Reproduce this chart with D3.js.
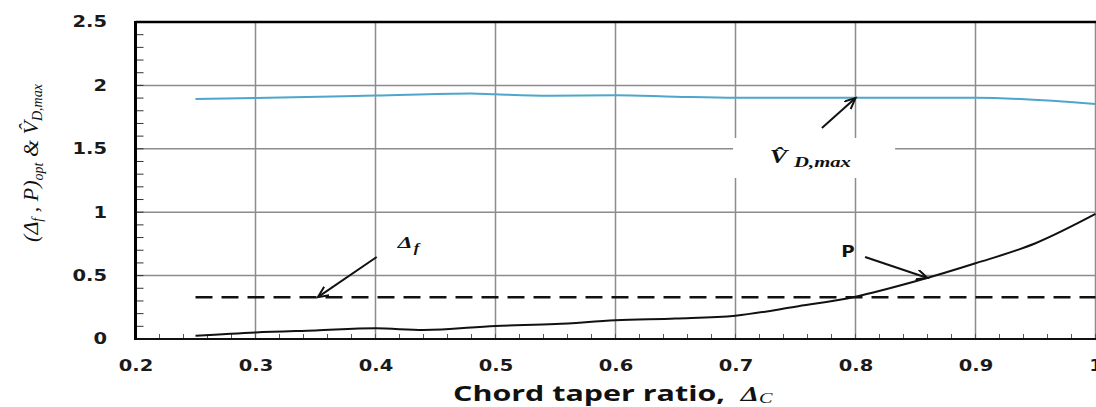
<!DOCTYPE html>
<html>
<head>
<meta charset="utf-8">
<script src="https://cdn.jsdelivr.net/npm/d3@7"></script>
<style>
  body { margin: 0; background: #fff; }
  svg { display: block; }
</style>
</head>
<body>
<div id="chart"></div>
<script>
// chord taper ratio ticks and y ticks
const xTicks = [0.2, 0.3, 0.4, 0.5, 0.6, 0.7, 0.8, 0.9, 1.0];
const yTicks = [0, 0.5, 1, 1.5, 2, 2.5];
const xGrid = [0.3, 0.4, 0.5, 0.6, 0.7, 0.8, 0.9, 1.0];
const yGrid = [0.5, 1, 1.5, 2];

// V_D,max (blue)
const vdX = [0.25, 0.3, 0.4, 0.48, 0.5, 0.545, 0.6, 0.65, 0.7, 0.8, 0.9, 1.0];
const vdY = [1.893, 1.90, 1.92, 1.937, 1.93, 1.919, 1.922, 1.911, 1.903, 1.903, 1.903, 1.853];

// P optimum (solid black)
const pX = [0.25, 0.3, 0.35, 0.4, 0.44, 0.5, 0.55, 0.6, 0.65, 0.7, 0.75, 0.8, 0.85, 0.9, 0.95, 1.0];
const pY = [0.026, 0.052, 0.068, 0.084, 0.071, 0.103, 0.118, 0.147, 0.162, 0.184, 0.255, 0.334, 0.455, 0.597, 0.755, 0.986];

// Delta_f optimum (dashed)
const dfX = [0.25, 1.0];
const dfY = [0.33, 0.33];

const width = 1096;
const height = 407;
const sx = 1.3; // text in the picture is stretched sideways

const x = d3.scaleLinear().domain([0.2, 1.0]).range([135.5, 1095.5]);
const y = d3.scaleLinear().domain([0, 2.5]).range([339, 22]);

const svg = d3.select('#chart')
  .append('svg')
  .attr('width', width)
  .attr('height', height);

svg.append('rect').attr('width', width).attr('height', height).attr('fill', '#fff');

const defs = svg.append('defs');
defs.append('marker')
  .attr('id', 'arrow')
  .attr('markerUnits', 'userSpaceOnUse')
  .attr('markerWidth', 14)
  .attr('markerHeight', 12)
  .attr('refX', 11)
  .attr('refY', 5)
  .attr('orient', 'auto')
  .append('path')
  .attr('d', 'M0,0 L11,5 L0,10')
  .attr('fill', 'none')
  .attr('stroke', '#111')
  .attr('stroke-width', 2);

// grid
svg.selectAll('.vgrid')
  .data(xGrid)
  .enter()
  .append('line')
  .attr('class', 'vgrid')
  .attr('x1', d => x(d)).attr('x2', d => x(d))
  .attr('y1', y(2.5)).attr('y2', y(0))
  .attr('stroke', '#8c8c8c')
  .attr('stroke-width', 1.5);

svg.selectAll('.hgrid')
  .data(yGrid)
  .enter()
  .append('line')
  .attr('class', 'hgrid')
  .attr('x1', x(0.2)).attr('x2', width)
  .attr('y1', d => y(d)).attr('y2', d => y(d))
  .attr('stroke', '#8c8c8c')
  .attr('stroke-width', 1.5);

// white patch behind the V label
svg.append('rect')
  .attr('x', x(0.698)).attr('y', y(1.585))
  .attr('width', x(0.833) - x(0.698))
  .attr('height', y(1.27) - y(1.585))
  .attr('fill', '#fff');

// minor ticks
svg.selectAll('.ytick')
  .data(d3.range(0, 25).map(i => i / 10))
  .enter()
  .append('line')
  .attr('x1', x(0.2)).attr('x2', x(0.2) + 8)
  .attr('y1', d => y(d)).attr('y2', d => y(d))
  .attr('stroke', '#333')
  .attr('stroke-width', 1);

svg.selectAll('.xtick')
  .data(d3.range(0, 41).map(i => 0.2 + i * 0.02))
  .enter()
  .append('line')
  .attr('x1', d => x(d)).attr('x2', d => x(d))
  .attr('y1', y(0)).attr('y2', y(0) - 5)
  .attr('stroke', '#555')
  .attr('stroke-width', 1);

// axes frame
svg.append('line')
  .attr('x1', x(0.2)).attr('x2', width)
  .attr('y1', y(2.5)).attr('y2', y(2.5))
  .attr('stroke', '#000').attr('stroke-width', 2.5);
svg.append('line')
  .attr('x1', x(0.2)).attr('x2', width)
  .attr('y1', y(0)).attr('y2', y(0))
  .attr('stroke', '#111').attr('stroke-width', 2);
svg.append('line')
  .attr('x1', x(0.2)).attr('x2', x(0.2))
  .attr('y1', y(2.5) - 1).attr('y2', y(0) + 1)
  .attr('stroke', '#000').attr('stroke-width', 3);

// tick labels through d3 axes
const xAxis = svg.append('g')
  .attr('transform', `translate(0,${y(0)})`)
  .call(d3.axisBottom(x).tickValues(xTicks).tickSize(0).tickPadding(21).tickFormat(d3.format('')));
xAxis.select('.domain').remove();
xAxis.selectAll('text')
  .attr('transform', `scale(${sx},1)`)
  .attr('font-family', '"DejaVu Sans", sans-serif')
  .attr('font-weight', 'bold')
  .attr('font-size', '15px')
  .attr('fill', '#1a1a1a');

const yAxis = svg.append('g')
  .attr('transform', `translate(${x(0.2)},0)`)
  .call(d3.axisLeft(y).tickValues(yTicks).tickSize(0).tickPadding(28.5 / sx).tickFormat(d3.format('')));
yAxis.select('.domain').remove();
yAxis.selectAll('text')
  .attr('transform', `scale(${sx},1)`)
  .attr('font-family', '"DejaVu Sans", sans-serif')
  .attr('font-weight', 'bold')
  .attr('font-size', '15px')
  .attr('fill', '#1a1a1a');

// series
const line = d3.line()
  .x(d => x(d[0]))
  .y(d => y(d[1]))
  .curve(d3.curveMonotoneX);

svg.append('path')
  .datum(d3.zip(vdX, vdY))
  .attr('d', line)
  .attr('fill', 'none')
  .attr('stroke', '#4ea6cb')
  .attr('stroke-width', 2);

svg.append('path')
  .datum(d3.zip(dfX, dfY))
  .attr('d', line)
  .attr('fill', 'none')
  .attr('stroke', '#111')
  .attr('stroke-width', 2.5)
  .attr('stroke-dasharray', '17,9');

svg.append('path')
  .datum(d3.zip(pX, pY))
  .attr('d', line)
  .attr('fill', 'none')
  .attr('stroke', '#111')
  .attr('stroke-width', 2);

// annotation arrows [x1, y1, x2, y2] in data units
const arrows = [
  [0.401, 0.647, 0.352, 0.33],
  [0.772, 1.664, 0.800, 1.90],
  [0.808, 0.647, 0.860, 0.481]
];
svg.selectAll('.arrow')
  .data(arrows)
  .enter()
  .append('line')
  .attr('x1', d => x(d[0])).attr('y1', d => y(d[1]))
  .attr('x2', d => x(d[2])).attr('y2', d => y(d[3]))
  .attr('stroke', '#111')
  .attr('stroke-width', 2)
  .attr('marker-end', 'url(#arrow)');

// labels on the plot
const dfLab = svg.append('g')
  .attr('transform', `translate(${x(0.4185)},${y(0.72)}) scale(1.38,1)`)
  .append('text')
  .attr('font-family', '"Liberation Serif", serif')
  .attr('font-style', 'italic')
  .attr('font-weight', 'bold')
  .attr('fill', '#111');
dfLab.append('tspan').attr('font-size', '17px').text('\u0394');
dfLab.append('tspan').attr('font-size', '12px').attr('dy', 4).attr('dx', 1).text('f');

const vLab = svg.append('g')
  .attr('transform', `translate(${x(0.7285)},${y(1.388)}) scale(1.38,1)`)
  .append('text')
  .attr('font-family', '"Liberation Serif", serif')
  .attr('font-style', 'italic')
  .attr('font-weight', 'bold')
  .attr('fill', '#111');
vLab.append('tspan').attr('font-size', '19px').text('V\u0302');
vLab.append('tspan').attr('font-size', '15px').attr('dy', 4).attr('dx', 5).text('D,max');

svg.append('g')
  .attr('transform', `translate(${x(0.788)},${y(0.645)}) scale(1.38,1)`)
  .append('text')
  .attr('font-family', '"Open Sans", sans-serif')
  .attr('font-weight', 'bold')
  .attr('font-size', '16px')
  .attr('fill', '#111')
  .text('P');

// x axis title
const xt = svg.append('g')
  .attr('transform', 'translate(453,401) scale(1.45,1)')
  .append('text')
  .attr('font-family', '"Open Sans", sans-serif')
  .attr('font-weight', 'bold')
  .attr('font-size', '21px')
  .attr('fill', '#111');
xt.append('tspan').text('Chord taper ratio,\u00a0\u00a0');
xt.append('tspan')
  .attr('font-family', '"Liberation Serif", serif')
  .attr('font-style', 'italic')
  .attr('font-size', '20px')
  .text('\u0394');
xt.append('tspan')
  .attr('font-family', '"Liberation Serif", serif')
  .attr('font-style', 'italic')
  .attr('font-weight', 'normal')
  .attr('font-size', '14px')
  .attr('dy', 2)
  .text('C');

// y axis title
const yt = svg.append('text')
  .attr('transform', 'translate(38,163) rotate(-90)')
  .attr('text-anchor', 'middle')
  .attr('font-family', '"Liberation Serif", serif')
  .attr('font-style', 'italic')
  .attr('font-size', '22px')
  .attr('fill', '#111');
yt.append('tspan').text('(\u0394');
yt.append('tspan').attr('font-size', '14px').attr('dy', 4).text('f');
yt.append('tspan').attr('dy', -4).text(' , P)');
yt.append('tspan').attr('font-size', '14px').attr('dy', 5).text('opt');
yt.append('tspan').attr('dy', -5).text(' & V\u0302');
yt.append('tspan').attr('font-size', '14px').attr('dy', 4).text('D,max');
</script>
</body>
</html>
